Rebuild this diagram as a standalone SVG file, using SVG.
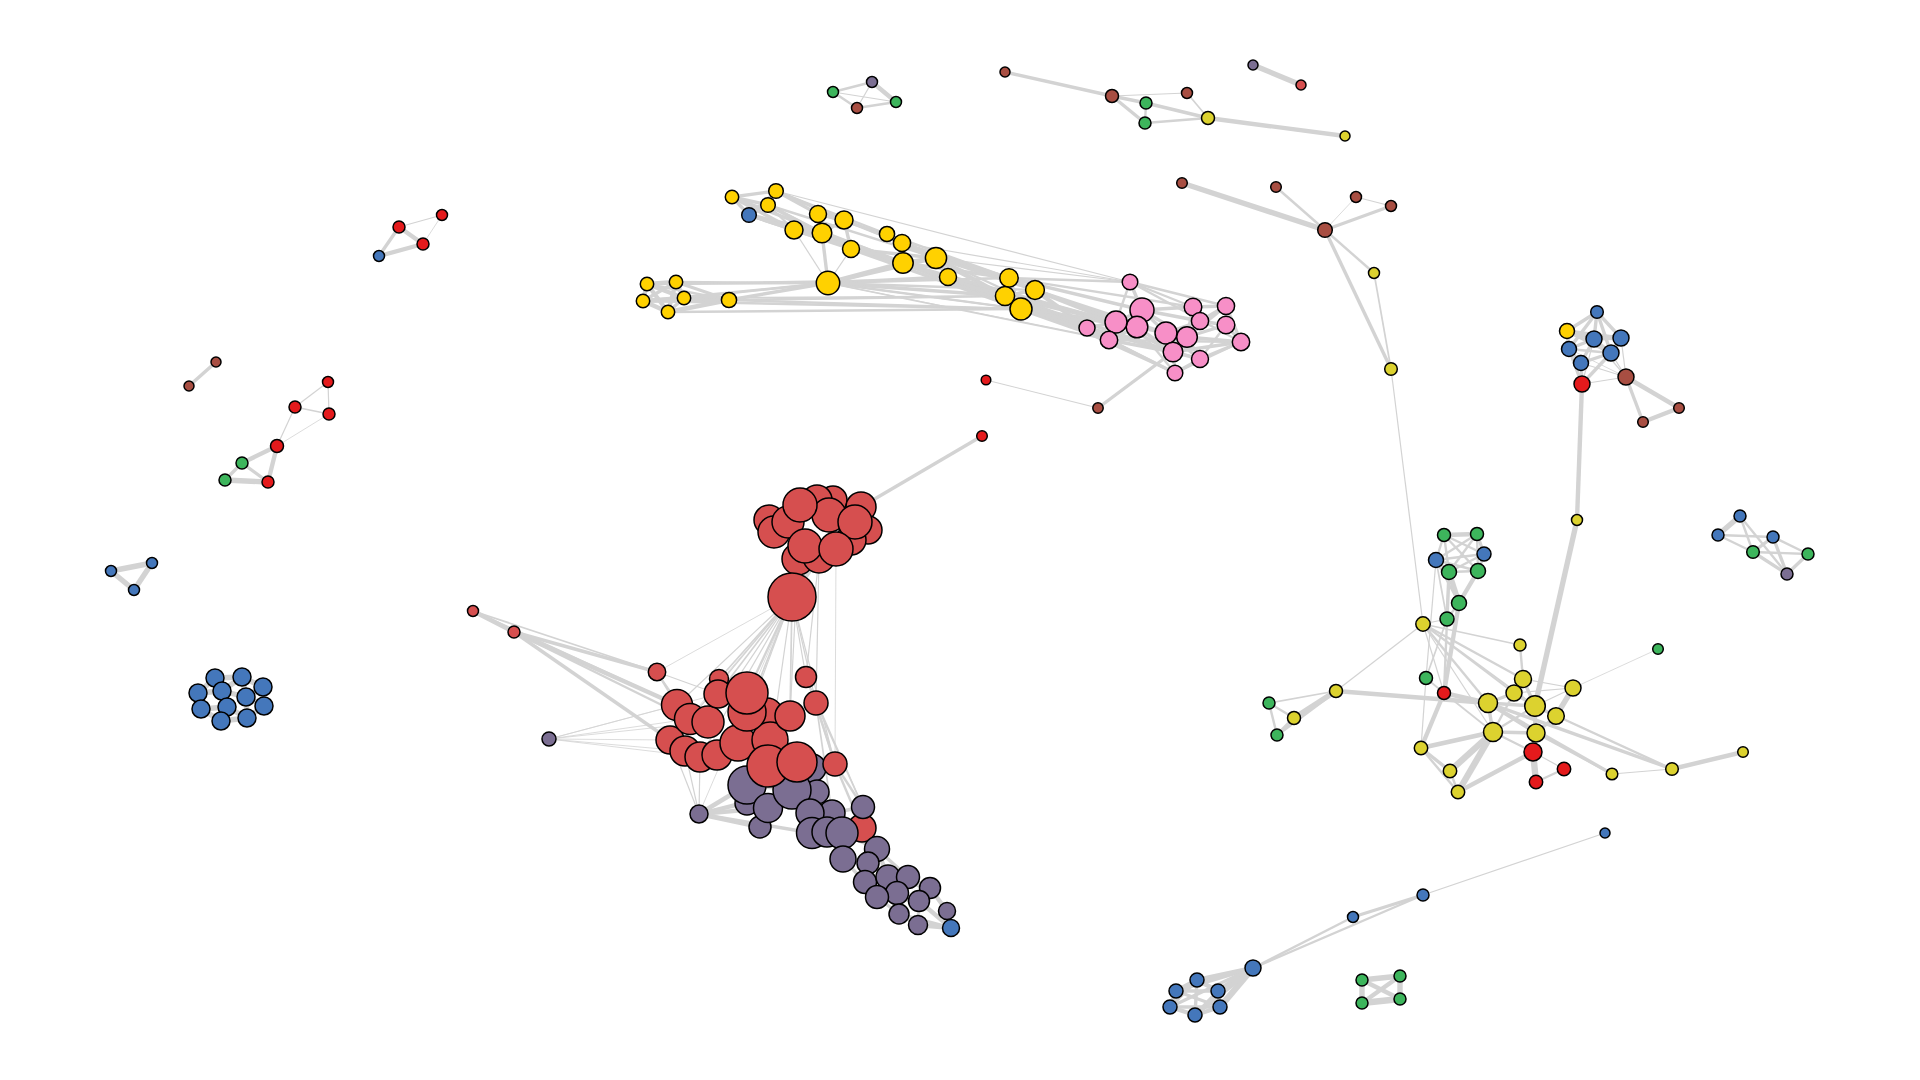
<svg xmlns="http://www.w3.org/2000/svg" width="1920" height="1080" viewBox="0 0 1920 1080">
<style>
line{stroke:#d3d3d3;stroke-linecap:butt}
.w05{stroke-width:0.8}.w1{stroke-width:1.2}.w15{stroke-width:1.7}.w2{stroke-width:2.4}.w3{stroke-width:3.4}.w4{stroke-width:4.4}.w5{stroke-width:5.4}.w6{stroke-width:6.4}
circle{stroke:#000;stroke-width:1.5}
.y{fill:#ffd100}.p{fill:#f78fc7}.r{fill:#d64f4f}.u{fill:#7b6e92}.b{fill:#4477bb}.g{fill:#3db55c}.rb{fill:#e41a1c}.n{fill:#a84e42}.l{fill:#dcd22f}
</style>
<rect width="1920" height="1080" fill="#fff"/>
<g id="edges">
<line x1="732" y1="197" x2="776" y2="191" class="w3"/>
<line x1="732" y1="197" x2="768" y2="205" class="w3"/>
<line x1="732" y1="197" x2="749" y2="215" class="w3"/>
<line x1="776" y1="191" x2="768" y2="205" class="w3"/>
<line x1="768" y1="205" x2="749" y2="215" class="w3"/>
<line x1="776" y1="191" x2="749" y2="215" class="w2"/>
<line x1="776" y1="191" x2="818" y2="214" class="w3"/>
<line x1="776" y1="191" x2="844" y2="220" class="w3"/>
<line x1="768" y1="205" x2="822" y2="233" class="w3"/>
<line x1="749" y1="215" x2="822" y2="233" class="w4"/>
<line x1="749" y1="215" x2="794" y2="230" class="w3"/>
<line x1="732" y1="197" x2="794" y2="230" class="w3"/>
<line x1="768" y1="205" x2="794" y2="230" class="w2"/>
<line x1="776" y1="191" x2="887" y2="234" class="w2"/>
<line x1="768" y1="205" x2="851" y2="249" class="w3"/>
<line x1="749" y1="215" x2="851" y2="249" class="w3"/>
<line x1="818" y1="214" x2="844" y2="220" class="w3"/>
<line x1="818" y1="214" x2="822" y2="233" class="w3"/>
<line x1="844" y1="220" x2="822" y2="233" class="w3"/>
<line x1="794" y1="230" x2="822" y2="233" class="w3"/>
<line x1="822" y1="233" x2="851" y2="249" class="w3"/>
<line x1="844" y1="220" x2="851" y2="249" class="w3"/>
<line x1="844" y1="220" x2="902" y2="243" class="w3"/>
<line x1="818" y1="214" x2="887" y2="234" class="w2"/>
<line x1="851" y1="249" x2="903" y2="263" class="w4"/>
<line x1="822" y1="233" x2="903" y2="263" class="w4"/>
<line x1="887" y1="234" x2="902" y2="243" class="w3"/>
<line x1="902" y1="243" x2="903" y2="263" class="w4"/>
<line x1="903" y1="263" x2="936" y2="258" class="w4"/>
<line x1="936" y1="258" x2="948" y2="277" class="w3"/>
<line x1="902" y1="243" x2="936" y2="258" class="w3"/>
<line x1="887" y1="234" x2="936" y2="258" class="w3"/>
<line x1="903" y1="263" x2="948" y2="277" class="w3"/>
<line x1="851" y1="249" x2="936" y2="258" class="w3"/>
<line x1="794" y1="230" x2="903" y2="263" class="w3"/>
<line x1="776" y1="191" x2="936" y2="258" class="w2"/>
<line x1="732" y1="197" x2="903" y2="263" class="w3"/>
<line x1="749" y1="215" x2="948" y2="277" class="w3"/>
<line x1="768" y1="205" x2="936" y2="258" class="w2"/>
<line x1="936" y1="258" x2="1009" y2="278" class="w4"/>
<line x1="948" y1="277" x2="1005" y2="296" class="w4"/>
<line x1="903" y1="263" x2="1009" y2="278" class="w3"/>
<line x1="903" y1="263" x2="1021" y2="309" class="w4"/>
<line x1="936" y1="258" x2="1035" y2="290" class="w3"/>
<line x1="902" y1="243" x2="1009" y2="278" class="w3"/>
<line x1="948" y1="277" x2="1021" y2="309" class="w4"/>
<line x1="887" y1="234" x2="1009" y2="278" class="w2"/>
<line x1="851" y1="249" x2="1021" y2="309" class="w3"/>
<line x1="936" y1="258" x2="1005" y2="296" class="w3"/>
<line x1="902" y1="243" x2="1005" y2="296" class="w3"/>
<line x1="1009" y1="278" x2="1035" y2="290" class="w3"/>
<line x1="1009" y1="278" x2="1005" y2="296" class="w3"/>
<line x1="1035" y1="290" x2="1021" y2="309" class="w3"/>
<line x1="1005" y1="296" x2="1021" y2="309" class="w3"/>
<line x1="1009" y1="278" x2="1021" y2="309" class="w3"/>
<line x1="1035" y1="290" x2="1005" y2="296" class="w3"/>
<line x1="828" y1="283" x2="794" y2="230" class="w1"/>
<line x1="828" y1="283" x2="822" y2="233" class="w3"/>
<line x1="828" y1="283" x2="851" y2="249" class="w1"/>
<line x1="828" y1="283" x2="903" y2="263" class="w4"/>
<line x1="828" y1="283" x2="936" y2="258" class="w3"/>
<line x1="828" y1="283" x2="948" y2="277" class="w3"/>
<line x1="828" y1="283" x2="1009" y2="278" class="w2"/>
<line x1="828" y1="283" x2="1005" y2="296" class="w3"/>
<line x1="828" y1="283" x2="1021" y2="309" class="w2"/>
<line x1="828" y1="283" x2="729" y2="300" class="w3"/>
<line x1="828" y1="283" x2="647" y2="284" class="w2"/>
<line x1="828" y1="283" x2="676" y2="282" class="w2"/>
<line x1="828" y1="283" x2="643" y2="301" class="w2"/>
<line x1="828" y1="283" x2="684" y2="298" class="w2"/>
<line x1="828" y1="283" x2="1035" y2="290" class="w2"/>
<line x1="647" y1="284" x2="676" y2="282" class="w4"/>
<line x1="647" y1="284" x2="643" y2="301" class="w4"/>
<line x1="647" y1="284" x2="684" y2="298" class="w4"/>
<line x1="647" y1="284" x2="668" y2="312" class="w4"/>
<line x1="676" y1="282" x2="684" y2="298" class="w4"/>
<line x1="676" y1="282" x2="668" y2="312" class="w4"/>
<line x1="643" y1="301" x2="684" y2="298" class="w4"/>
<line x1="643" y1="301" x2="668" y2="312" class="w4"/>
<line x1="684" y1="298" x2="668" y2="312" class="w3"/>
<line x1="676" y1="282" x2="643" y2="301" class="w3"/>
<line x1="684" y1="298" x2="729" y2="300" class="w4"/>
<line x1="668" y1="312" x2="729" y2="300" class="w4"/>
<line x1="676" y1="282" x2="729" y2="300" class="w3"/>
<line x1="647" y1="284" x2="729" y2="300" class="w2"/>
<line x1="643" y1="301" x2="729" y2="300" class="w3"/>
<line x1="643" y1="301" x2="1021" y2="309" class="w2"/>
<line x1="668" y1="312" x2="1021" y2="309" class="w2"/>
<line x1="729" y1="300" x2="1005" y2="296" class="w2"/>
<line x1="729" y1="300" x2="1021" y2="309" class="w2"/>
<line x1="684" y1="298" x2="1005" y2="296" class="w15"/>
<line x1="647" y1="284" x2="1009" y2="278" class="w15"/>
<line x1="1009" y1="278" x2="1130" y2="282" class="w2"/>
<line x1="1035" y1="290" x2="1087" y2="328" class="w4"/>
<line x1="1035" y1="290" x2="1116" y2="322" class="w4"/>
<line x1="1005" y1="296" x2="1087" y2="328" class="w4"/>
<line x1="1021" y1="309" x2="1109" y2="340" class="w4"/>
<line x1="1021" y1="309" x2="1116" y2="322" class="w3"/>
<line x1="1005" y1="296" x2="1116" y2="322" class="w4"/>
<line x1="1009" y1="278" x2="1142" y2="310" class="w3"/>
<line x1="1035" y1="290" x2="1137" y2="327" class="w3"/>
<line x1="1021" y1="309" x2="1137" y2="327" class="w3"/>
<line x1="1035" y1="290" x2="1166" y2="333" class="w3"/>
<line x1="1005" y1="296" x2="1173" y2="352" class="w3"/>
<line x1="1021" y1="309" x2="1173" y2="352" class="w3"/>
<line x1="1009" y1="278" x2="1193" y2="307" class="w2"/>
<line x1="1005" y1="296" x2="1175" y2="373" class="w2"/>
<line x1="1021" y1="309" x2="1200" y2="359" class="w2"/>
<line x1="936" y1="258" x2="1130" y2="282" class="w1"/>
<line x1="776" y1="191" x2="1130" y2="282" class="w1"/>
<line x1="948" y1="277" x2="1116" y2="322" class="w2"/>
<line x1="903" y1="263" x2="1087" y2="328" class="w2"/>
<line x1="936" y1="258" x2="1087" y2="328" class="w2"/>
<line x1="948" y1="277" x2="1109" y2="340" class="w2"/>
<line x1="903" y1="263" x2="1116" y2="322" class="w2"/>
<line x1="902" y1="243" x2="1130" y2="282" class="w1"/>
<line x1="828" y1="283" x2="1116" y2="322" class="w15"/>
<line x1="828" y1="283" x2="1109" y2="340" class="w15"/>
<line x1="828" y1="283" x2="1173" y2="352" class="w1"/>
<line x1="1130" y1="282" x2="1142" y2="310" class="w3"/>
<line x1="1130" y1="282" x2="1193" y2="307" class="w2"/>
<line x1="1130" y1="282" x2="1226" y2="306" class="w2"/>
<line x1="1130" y1="282" x2="1116" y2="322" class="w2"/>
<line x1="1130" y1="282" x2="1241" y2="342" class="w2"/>
<line x1="1142" y1="310" x2="1137" y2="327" class="w3"/>
<line x1="1142" y1="310" x2="1116" y2="322" class="w3"/>
<line x1="1142" y1="310" x2="1166" y2="333" class="w3"/>
<line x1="1142" y1="310" x2="1193" y2="307" class="w3"/>
<line x1="1142" y1="310" x2="1200" y2="321" class="w3"/>
<line x1="1142" y1="310" x2="1187" y2="337" class="w3"/>
<line x1="1137" y1="327" x2="1116" y2="322" class="w3"/>
<line x1="1137" y1="327" x2="1166" y2="333" class="w3"/>
<line x1="1137" y1="327" x2="1109" y2="340" class="w3"/>
<line x1="1137" y1="327" x2="1173" y2="352" class="w3"/>
<line x1="1137" y1="327" x2="1175" y2="373" class="w2"/>
<line x1="1116" y1="322" x2="1087" y2="328" class="w3"/>
<line x1="1116" y1="322" x2="1109" y2="340" class="w3"/>
<line x1="1116" y1="322" x2="1173" y2="352" class="w3"/>
<line x1="1087" y1="328" x2="1109" y2="340" class="w3"/>
<line x1="1087" y1="328" x2="1173" y2="352" class="w2"/>
<line x1="1087" y1="328" x2="1175" y2="373" class="w2"/>
<line x1="1109" y1="340" x2="1173" y2="352" class="w3"/>
<line x1="1109" y1="340" x2="1175" y2="373" class="w3"/>
<line x1="1109" y1="340" x2="1241" y2="342" class="w2"/>
<line x1="1166" y1="333" x2="1187" y2="337" class="w3"/>
<line x1="1166" y1="333" x2="1173" y2="352" class="w3"/>
<line x1="1166" y1="333" x2="1200" y2="321" class="w3"/>
<line x1="1166" y1="333" x2="1200" y2="359" class="w3"/>
<line x1="1187" y1="337" x2="1200" y2="321" class="w3"/>
<line x1="1187" y1="337" x2="1193" y2="307" class="w3"/>
<line x1="1187" y1="337" x2="1226" y2="306" class="w3"/>
<line x1="1187" y1="337" x2="1226" y2="325" class="w3"/>
<line x1="1187" y1="337" x2="1241" y2="342" class="w3"/>
<line x1="1187" y1="337" x2="1200" y2="359" class="w3"/>
<line x1="1193" y1="307" x2="1200" y2="321" class="w3"/>
<line x1="1193" y1="307" x2="1226" y2="306" class="w3"/>
<line x1="1200" y1="321" x2="1226" y2="306" class="w3"/>
<line x1="1200" y1="321" x2="1226" y2="325" class="w3"/>
<line x1="1226" y1="306" x2="1226" y2="325" class="w3"/>
<line x1="1226" y1="325" x2="1241" y2="342" class="w3"/>
<line x1="1226" y1="306" x2="1241" y2="342" class="w3"/>
<line x1="1226" y1="325" x2="1200" y2="359" class="w2"/>
<line x1="1241" y1="342" x2="1200" y2="359" class="w3"/>
<line x1="1241" y1="342" x2="1173" y2="352" class="w3"/>
<line x1="1241" y1="342" x2="1175" y2="373" class="w2"/>
<line x1="1173" y1="352" x2="1200" y2="359" class="w3"/>
<line x1="1173" y1="352" x2="1175" y2="373" class="w3"/>
<line x1="1200" y1="359" x2="1175" y2="373" class="w3"/>
<line x1="986" y1="380" x2="1098" y2="408" class="w1"/>
<line x1="1098" y1="408" x2="1173" y2="352" class="w3"/>
<line x1="833" y1="92" x2="872" y2="82" class="w2"/>
<line x1="833" y1="92" x2="857" y2="108" class="w2"/>
<line x1="833" y1="92" x2="896" y2="102" class="w1"/>
<line x1="872" y1="82" x2="896" y2="102" class="w4"/>
<line x1="857" y1="108" x2="896" y2="102" class="w2"/>
<line x1="872" y1="82" x2="857" y2="108" class="w1"/>
<line x1="1005" y1="72" x2="1112" y2="96" class="w3"/>
<line x1="1112" y1="96" x2="1187" y2="93" class="w1"/>
<line x1="1112" y1="96" x2="1146" y2="103" class="w3"/>
<line x1="1112" y1="96" x2="1145" y2="123" class="w3"/>
<line x1="1146" y1="103" x2="1145" y2="123" class="w2"/>
<line x1="1146" y1="103" x2="1208" y2="118" class="w3"/>
<line x1="1145" y1="123" x2="1208" y2="118" class="w2"/>
<line x1="1187" y1="93" x2="1208" y2="118" class="w15"/>
<line x1="1208" y1="118" x2="1345" y2="136" class="w4"/>
<line x1="1253" y1="65" x2="1301" y2="85" class="w5"/>
<line x1="1182" y1="183" x2="1325" y2="230" class="w5"/>
<line x1="1276" y1="187" x2="1325" y2="230" class="w2"/>
<line x1="1356" y1="197" x2="1325" y2="230" class="w05"/>
<line x1="1391" y1="206" x2="1325" y2="230" class="w3"/>
<line x1="1356" y1="197" x2="1391" y2="206" class="w1"/>
<line x1="1325" y1="230" x2="1374" y2="273" class="w2"/>
<line x1="1325" y1="230" x2="1391" y2="369" class="w3"/>
<line x1="1374" y1="273" x2="1391" y2="369" class="w15"/>
<line x1="1391" y1="369" x2="1423" y2="624" class="w1"/>
<line x1="399" y1="227" x2="423" y2="244" class="w4"/>
<line x1="379" y1="256" x2="399" y2="227" class="w3"/>
<line x1="379" y1="256" x2="423" y2="244" class="w4"/>
<line x1="399" y1="227" x2="442" y2="215" class="w1"/>
<line x1="442" y1="215" x2="423" y2="244" class="w05"/>
<line x1="216" y1="362" x2="189" y2="386" class="w3"/>
<line x1="328" y1="382" x2="295" y2="407" class="w1"/>
<line x1="328" y1="382" x2="329" y2="414" class="w1"/>
<line x1="295" y1="407" x2="329" y2="414" class="w15"/>
<line x1="295" y1="407" x2="277" y2="446" class="w1"/>
<line x1="329" y1="414" x2="277" y2="446" class="w05"/>
<line x1="277" y1="446" x2="242" y2="463" class="w4"/>
<line x1="277" y1="446" x2="268" y2="482" class="w4"/>
<line x1="242" y1="463" x2="225" y2="480" class="w3"/>
<line x1="242" y1="463" x2="268" y2="482" class="w3"/>
<line x1="225" y1="480" x2="268" y2="482" class="w5"/>
<line x1="111" y1="571" x2="152" y2="563" class="w5"/>
<line x1="111" y1="571" x2="134" y2="590" class="w5"/>
<line x1="152" y1="563" x2="134" y2="590" class="w5"/>
<line x1="215" y1="678" x2="242" y2="677" class="w5"/>
<line x1="215" y1="678" x2="198" y2="693" class="w5"/>
<line x1="215" y1="678" x2="222" y2="691" class="w5"/>
<line x1="242" y1="677" x2="263" y2="687" class="w5"/>
<line x1="242" y1="677" x2="246" y2="697" class="w5"/>
<line x1="242" y1="677" x2="222" y2="691" class="w5"/>
<line x1="263" y1="687" x2="246" y2="697" class="w5"/>
<line x1="263" y1="687" x2="264" y2="706" class="w5"/>
<line x1="198" y1="693" x2="222" y2="691" class="w5"/>
<line x1="198" y1="693" x2="201" y2="709" class="w5"/>
<line x1="222" y1="691" x2="227" y2="707" class="w5"/>
<line x1="222" y1="691" x2="246" y2="697" class="w5"/>
<line x1="246" y1="697" x2="264" y2="706" class="w5"/>
<line x1="246" y1="697" x2="247" y2="718" class="w5"/>
<line x1="201" y1="709" x2="227" y2="707" class="w5"/>
<line x1="201" y1="709" x2="221" y2="721" class="w5"/>
<line x1="227" y1="707" x2="221" y2="721" class="w5"/>
<line x1="227" y1="707" x2="247" y2="718" class="w5"/>
<line x1="264" y1="706" x2="247" y2="718" class="w5"/>
<line x1="221" y1="721" x2="247" y2="718" class="w5"/>
<line x1="861" y1="507" x2="982" y2="436" class="w3"/>
<line x1="798" y1="559" x2="792" y2="597" class="w4"/>
<line x1="819" y1="557" x2="792" y2="597" class="w4"/>
<line x1="792" y1="597" x2="657" y2="672" class="w05"/>
<line x1="792" y1="597" x2="677" y2="705" class="w1"/>
<line x1="792" y1="597" x2="690" y2="719" class="w1"/>
<line x1="792" y1="597" x2="718" y2="694" class="w15"/>
<line x1="792" y1="597" x2="747" y2="693" class="w2"/>
<line x1="792" y1="597" x2="806" y2="677" class="w1"/>
<line x1="792" y1="597" x2="816" y2="703" class="w1"/>
<line x1="792" y1="597" x2="790" y2="716" class="w15"/>
<line x1="792" y1="597" x2="835" y2="764" class="w1"/>
<line x1="792" y1="597" x2="700" y2="757" class="w1"/>
<line x1="792" y1="597" x2="670" y2="740" class="w05"/>
<line x1="792" y1="597" x2="699" y2="814" class="w05"/>
<line x1="792" y1="597" x2="747" y2="712" class="w15"/>
<line x1="792" y1="597" x2="719" y2="679" class="w15"/>
<line x1="792" y1="597" x2="708" y2="722" class="w1"/>
<line x1="792" y1="597" x2="738" y2="743" class="w1"/>
<line x1="792" y1="597" x2="768" y2="766" class="w1"/>
<line x1="819" y1="557" x2="806" y2="677" class="w1"/>
<line x1="819" y1="557" x2="816" y2="703" class="w1"/>
<line x1="836" y1="549" x2="835" y2="764" class="w05"/>
<line x1="798" y1="559" x2="790" y2="716" class="w1"/>
<line x1="473" y1="611" x2="514" y2="632" class="w4"/>
<line x1="514" y1="632" x2="677" y2="705" class="w4"/>
<line x1="514" y1="632" x2="670" y2="740" class="w3"/>
<line x1="514" y1="632" x2="690" y2="719" class="w2"/>
<line x1="473" y1="611" x2="677" y2="705" class="w2"/>
<line x1="473" y1="611" x2="657" y2="672" class="w15"/>
<line x1="514" y1="632" x2="657" y2="672" class="w3"/>
<line x1="657" y1="672" x2="677" y2="705" class="w2"/>
<line x1="657" y1="672" x2="718" y2="694" class="w1"/>
<line x1="657" y1="672" x2="690" y2="719" class="w1"/>
<line x1="549" y1="739" x2="670" y2="740" class="w05"/>
<line x1="549" y1="739" x2="685" y2="751" class="w05"/>
<line x1="549" y1="739" x2="677" y2="705" class="w05"/>
<line x1="549" y1="739" x2="690" y2="719" class="w05"/>
<line x1="549" y1="739" x2="700" y2="757" class="w05"/>
<line x1="549" y1="739" x2="708" y2="722" class="w05"/>
<line x1="549" y1="739" x2="718" y2="694" class="w05"/>
<line x1="699" y1="814" x2="670" y2="740" class="w1"/>
<line x1="699" y1="814" x2="685" y2="751" class="w1"/>
<line x1="699" y1="814" x2="700" y2="757" class="w1"/>
<line x1="699" y1="814" x2="747" y2="785" class="w4"/>
<line x1="699" y1="814" x2="760" y2="827" class="w4"/>
<line x1="699" y1="814" x2="747" y2="803" class="w3"/>
<line x1="699" y1="814" x2="812" y2="833" class="w3"/>
<line x1="699" y1="814" x2="768" y2="808" class="w4"/>
<line x1="699" y1="814" x2="792" y2="790" class="w3"/>
<line x1="816" y1="703" x2="863" y2="807" class="w15"/>
<line x1="816" y1="703" x2="835" y2="764" class="w2"/>
<line x1="835" y1="764" x2="863" y2="807" class="w2"/>
<line x1="806" y1="677" x2="835" y2="764" class="w1"/>
<line x1="816" y1="703" x2="832" y2="813" class="w15"/>
<line x1="835" y1="764" x2="862" y2="828" class="w2"/>
<line x1="806" y1="677" x2="863" y2="807" class="w1"/>
<line x1="747" y1="785" x2="792" y2="790" class="w3"/>
<line x1="747" y1="785" x2="768" y2="808" class="w3"/>
<line x1="792" y1="790" x2="768" y2="808" class="w3"/>
<line x1="792" y1="790" x2="810" y2="813" class="w3"/>
<line x1="792" y1="790" x2="812" y2="833" class="w3"/>
<line x1="810" y1="813" x2="827" y2="832" class="w3"/>
<line x1="812" y1="833" x2="842" y2="833" class="w3"/>
<line x1="827" y1="832" x2="842" y2="833" class="w3"/>
<line x1="832" y1="813" x2="863" y2="807" class="w3"/>
<line x1="842" y1="833" x2="863" y2="807" class="w3"/>
<line x1="842" y1="833" x2="877" y2="849" class="w3"/>
<line x1="842" y1="833" x2="843" y2="859" class="w3"/>
<line x1="863" y1="807" x2="877" y2="849" class="w4"/>
<line x1="877" y1="849" x2="868" y2="863" class="w3"/>
<line x1="877" y1="849" x2="888" y2="877" class="w4"/>
<line x1="843" y1="859" x2="865" y2="882" class="w3"/>
<line x1="868" y1="863" x2="888" y2="877" class="w3"/>
<line x1="865" y1="882" x2="877" y2="897" class="w3"/>
<line x1="888" y1="877" x2="908" y2="877" class="w3"/>
<line x1="908" y1="877" x2="930" y2="888" class="w3"/>
<line x1="897" y1="893" x2="919" y2="901" class="w3"/>
<line x1="888" y1="877" x2="897" y2="893" class="w3"/>
<line x1="877" y1="897" x2="899" y2="914" class="w3"/>
<line x1="930" y1="888" x2="947" y2="911" class="w4"/>
<line x1="919" y1="901" x2="918" y2="925" class="w3"/>
<line x1="899" y1="914" x2="918" y2="925" class="w3"/>
<line x1="918" y1="925" x2="951" y2="928" class="w4"/>
<line x1="947" y1="911" x2="951" y2="928" class="w4"/>
<line x1="930" y1="888" x2="919" y2="901" class="w3"/>
<line x1="897" y1="893" x2="899" y2="914" class="w3"/>
<line x1="877" y1="849" x2="908" y2="877" class="w3"/>
<line x1="888" y1="877" x2="930" y2="888" class="w4"/>
<line x1="919" y1="901" x2="951" y2="928" class="w4"/>
<line x1="899" y1="914" x2="951" y2="928" class="w3"/>
<line x1="877" y1="897" x2="919" y2="901" class="w3"/>
<line x1="1444" y1="535" x2="1477" y2="534" class="w4"/>
<line x1="1444" y1="535" x2="1436" y2="560" class="w2"/>
<line x1="1444" y1="535" x2="1484" y2="554" class="w2"/>
<line x1="1444" y1="535" x2="1449" y2="572" class="w2"/>
<line x1="1444" y1="535" x2="1478" y2="571" class="w2"/>
<line x1="1477" y1="534" x2="1436" y2="560" class="w2"/>
<line x1="1477" y1="534" x2="1484" y2="554" class="w3"/>
<line x1="1477" y1="534" x2="1449" y2="572" class="w2"/>
<line x1="1477" y1="534" x2="1478" y2="571" class="w2"/>
<line x1="1436" y1="560" x2="1484" y2="554" class="w2"/>
<line x1="1436" y1="560" x2="1449" y2="572" class="w3"/>
<line x1="1436" y1="560" x2="1478" y2="571" class="w2"/>
<line x1="1484" y1="554" x2="1449" y2="572" class="w2"/>
<line x1="1484" y1="554" x2="1478" y2="571" class="w3"/>
<line x1="1449" y1="572" x2="1478" y2="571" class="w2"/>
<line x1="1449" y1="572" x2="1459" y2="603" class="w5"/>
<line x1="1478" y1="571" x2="1459" y2="603" class="w4"/>
<line x1="1436" y1="560" x2="1459" y2="603" class="w2"/>
<line x1="1449" y1="572" x2="1447" y2="619" class="w3"/>
<line x1="1436" y1="560" x2="1447" y2="619" class="w15"/>
<line x1="1459" y1="603" x2="1447" y2="619" class="w2"/>
<line x1="1459" y1="603" x2="1444" y2="693" class="w4"/>
<line x1="1449" y1="572" x2="1444" y2="693" class="w2"/>
<line x1="1436" y1="560" x2="1426" y2="678" class="w1"/>
<line x1="1447" y1="619" x2="1426" y2="678" class="w15"/>
<line x1="1423" y1="624" x2="1336" y2="691" class="w1"/>
<line x1="1423" y1="624" x2="1447" y2="619" class="w1"/>
<line x1="1423" y1="624" x2="1520" y2="645" class="w15"/>
<line x1="1423" y1="624" x2="1523" y2="679" class="w2"/>
<line x1="1423" y1="624" x2="1488" y2="703" class="w2"/>
<line x1="1423" y1="624" x2="1535" y2="706" class="w15"/>
<line x1="1423" y1="624" x2="1514" y2="693" class="w15"/>
<line x1="1423" y1="624" x2="1444" y2="693" class="w1"/>
<line x1="1423" y1="624" x2="1493" y2="732" class="w1"/>
<line x1="1426" y1="678" x2="1421" y2="748" class="w1"/>
<line x1="1426" y1="678" x2="1444" y2="693" class="w15"/>
<line x1="1444" y1="693" x2="1421" y2="748" class="w4"/>
<line x1="1444" y1="693" x2="1488" y2="703" class="w4"/>
<line x1="1444" y1="693" x2="1493" y2="732" class="w15"/>
<line x1="1336" y1="691" x2="1488" y2="703" class="w4"/>
<line x1="1336" y1="691" x2="1269" y2="703" class="w15"/>
<line x1="1336" y1="691" x2="1294" y2="718" class="w5"/>
<line x1="1336" y1="691" x2="1277" y2="735" class="w3"/>
<line x1="1269" y1="703" x2="1294" y2="718" class="w2"/>
<line x1="1269" y1="703" x2="1277" y2="735" class="w2"/>
<line x1="1294" y1="718" x2="1277" y2="735" class="w3"/>
<line x1="1520" y1="645" x2="1523" y2="679" class="w2"/>
<line x1="1523" y1="679" x2="1514" y2="693" class="w3"/>
<line x1="1523" y1="679" x2="1535" y2="706" class="w3"/>
<line x1="1523" y1="679" x2="1573" y2="688" class="w1"/>
<line x1="1514" y1="693" x2="1488" y2="703" class="w3"/>
<line x1="1514" y1="693" x2="1535" y2="706" class="w3"/>
<line x1="1514" y1="693" x2="1573" y2="688" class="w1"/>
<line x1="1488" y1="703" x2="1535" y2="706" class="w3"/>
<line x1="1535" y1="706" x2="1573" y2="688" class="w1"/>
<line x1="1535" y1="706" x2="1556" y2="716" class="w3"/>
<line x1="1535" y1="706" x2="1536" y2="733" class="w3"/>
<line x1="1488" y1="703" x2="1493" y2="732" class="w3"/>
<line x1="1493" y1="732" x2="1536" y2="733" class="w3"/>
<line x1="1556" y1="716" x2="1536" y2="733" class="w3"/>
<line x1="1573" y1="688" x2="1556" y2="716" class="w5"/>
<line x1="1488" y1="703" x2="1536" y2="733" class="w3"/>
<line x1="1535" y1="706" x2="1493" y2="732" class="w2"/>
<line x1="1514" y1="693" x2="1493" y2="732" class="w2"/>
<line x1="1536" y1="733" x2="1533" y2="752" class="w3"/>
<line x1="1493" y1="732" x2="1533" y2="752" class="w2"/>
<line x1="1535" y1="706" x2="1533" y2="752" class="w2"/>
<line x1="1658" y1="649" x2="1573" y2="688" class="w05"/>
<line x1="1421" y1="748" x2="1493" y2="732" class="w4"/>
<line x1="1421" y1="748" x2="1450" y2="771" class="w3"/>
<line x1="1421" y1="748" x2="1458" y2="792" class="w2"/>
<line x1="1450" y1="771" x2="1493" y2="732" class="w6"/>
<line x1="1458" y1="792" x2="1493" y2="732" class="w6"/>
<line x1="1458" y1="792" x2="1533" y2="752" class="w4"/>
<line x1="1450" y1="771" x2="1458" y2="792" class="w2"/>
<line x1="1533" y1="752" x2="1536" y2="782" class="w6"/>
<line x1="1536" y1="782" x2="1564" y2="769" class="w2"/>
<line x1="1533" y1="752" x2="1564" y2="769" class="w1"/>
<line x1="1488" y1="703" x2="1612" y2="774" class="w3"/>
<line x1="1488" y1="703" x2="1672" y2="769" class="w3"/>
<line x1="1535" y1="706" x2="1672" y2="769" class="w2"/>
<line x1="1536" y1="733" x2="1612" y2="774" class="w2"/>
<line x1="1612" y1="774" x2="1672" y2="769" class="w1"/>
<line x1="1672" y1="769" x2="1743" y2="752" class="w4"/>
<line x1="1535" y1="706" x2="1577" y2="520" class="w5"/>
<line x1="1577" y1="520" x2="1582" y2="384" class="w4"/>
<line x1="1597" y1="312" x2="1567" y2="331" class="w3"/>
<line x1="1597" y1="312" x2="1594" y2="339" class="w3"/>
<line x1="1597" y1="312" x2="1621" y2="338" class="w3"/>
<line x1="1597" y1="312" x2="1569" y2="349" class="w3"/>
<line x1="1597" y1="312" x2="1611" y2="353" class="w3"/>
<line x1="1567" y1="331" x2="1594" y2="339" class="w3"/>
<line x1="1567" y1="331" x2="1569" y2="349" class="w3"/>
<line x1="1567" y1="331" x2="1611" y2="353" class="w3"/>
<line x1="1567" y1="331" x2="1621" y2="338" class="w3"/>
<line x1="1594" y1="339" x2="1621" y2="338" class="w3"/>
<line x1="1594" y1="339" x2="1569" y2="349" class="w3"/>
<line x1="1594" y1="339" x2="1611" y2="353" class="w3"/>
<line x1="1594" y1="339" x2="1581" y2="363" class="w3"/>
<line x1="1621" y1="338" x2="1611" y2="353" class="w3"/>
<line x1="1569" y1="349" x2="1581" y2="363" class="w3"/>
<line x1="1611" y1="353" x2="1581" y2="363" class="w3"/>
<line x1="1569" y1="349" x2="1611" y2="353" class="w2"/>
<line x1="1569" y1="349" x2="1582" y2="384" class="w3"/>
<line x1="1581" y1="363" x2="1582" y2="384" class="w3"/>
<line x1="1611" y1="353" x2="1582" y2="384" class="w3"/>
<line x1="1594" y1="339" x2="1582" y2="384" class="w1"/>
<line x1="1621" y1="338" x2="1626" y2="377" class="w1"/>
<line x1="1611" y1="353" x2="1626" y2="377" class="w1"/>
<line x1="1594" y1="339" x2="1626" y2="377" class="w1"/>
<line x1="1581" y1="363" x2="1626" y2="377" class="w1"/>
<line x1="1582" y1="384" x2="1626" y2="377" class="w1"/>
<line x1="1569" y1="349" x2="1626" y2="377" class="w05"/>
<line x1="1626" y1="377" x2="1679" y2="408" class="w4"/>
<line x1="1626" y1="377" x2="1643" y2="422" class="w3"/>
<line x1="1643" y1="422" x2="1679" y2="408" class="w4"/>
<line x1="1740" y1="516" x2="1718" y2="535" class="w5"/>
<line x1="1740" y1="516" x2="1753" y2="552" class="w2"/>
<line x1="1740" y1="516" x2="1787" y2="574" class="w2"/>
<line x1="1718" y1="535" x2="1773" y2="537" class="w2"/>
<line x1="1718" y1="535" x2="1753" y2="552" class="w2"/>
<line x1="1773" y1="537" x2="1753" y2="552" class="w3"/>
<line x1="1773" y1="537" x2="1787" y2="574" class="w3"/>
<line x1="1773" y1="537" x2="1808" y2="554" class="w2"/>
<line x1="1753" y1="552" x2="1808" y2="554" class="w2"/>
<line x1="1808" y1="554" x2="1787" y2="574" class="w3"/>
<line x1="1753" y1="552" x2="1787" y2="574" class="w3"/>
<line x1="1605" y1="833" x2="1423" y2="895" class="w1"/>
<line x1="1423" y1="895" x2="1353" y2="917" class="w3"/>
<line x1="1423" y1="895" x2="1253" y2="968" class="w2"/>
<line x1="1353" y1="917" x2="1253" y2="968" class="w2"/>
<line x1="1253" y1="968" x2="1197" y2="980" class="w4"/>
<line x1="1253" y1="968" x2="1218" y2="991" class="w5"/>
<line x1="1253" y1="968" x2="1220" y2="1007" class="w6"/>
<line x1="1253" y1="968" x2="1176" y2="991" class="w3"/>
<line x1="1253" y1="968" x2="1195" y2="1015" class="w4"/>
<line x1="1253" y1="968" x2="1170" y2="1007" class="w3"/>
<line x1="1197" y1="980" x2="1176" y2="991" class="w4"/>
<line x1="1197" y1="980" x2="1218" y2="991" class="w4"/>
<line x1="1176" y1="991" x2="1170" y2="1007" class="w4"/>
<line x1="1218" y1="991" x2="1220" y2="1007" class="w4"/>
<line x1="1170" y1="1007" x2="1195" y2="1015" class="w4"/>
<line x1="1195" y1="1015" x2="1220" y2="1007" class="w4"/>
<line x1="1176" y1="991" x2="1218" y2="991" class="w3"/>
<line x1="1197" y1="980" x2="1195" y2="1015" class="w3"/>
<line x1="1176" y1="991" x2="1220" y2="1007" class="w3"/>
<line x1="1170" y1="1007" x2="1220" y2="1007" class="w3"/>
<line x1="1197" y1="980" x2="1170" y2="1007" class="w3"/>
<line x1="1218" y1="991" x2="1195" y2="1015" class="w3"/>
<line x1="1362" y1="980" x2="1400" y2="976" class="w5"/>
<line x1="1362" y1="980" x2="1362" y2="1003" class="w5"/>
<line x1="1400" y1="976" x2="1400" y2="999" class="w5"/>
<line x1="1362" y1="1003" x2="1400" y2="999" class="w6"/>
<line x1="1362" y1="980" x2="1400" y2="999" class="w4"/>
<line x1="1400" y1="976" x2="1362" y2="1003" class="w4"/>
</g>
<g id="n-t1"><circle class="g" cx="833" cy="92" r="5.5"/></g>
<g id="n-t2"><circle class="u" cx="872" cy="82" r="5.5"/></g>
<g id="n-t3"><circle class="n" cx="857" cy="108" r="5.5"/></g>
<g id="n-t4"><circle class="g" cx="896" cy="102" r="5.5"/></g>
<g id="n-a1"><circle class="n" cx="1005" cy="72" r="5"/></g>
<g id="n-a2"><circle class="n" cx="1112" cy="96" r="6.5"/></g>
<g id="n-a3"><circle class="g" cx="1146" cy="103" r="6"/></g>
<g id="n-a4"><circle class="g" cx="1145" cy="123" r="6"/></g>
<g id="n-a5"><circle class="n" cx="1187" cy="93" r="5.5"/></g>
<g id="n-a6"><circle class="l" cx="1208" cy="118" r="6.5"/></g>
<g id="n-a7"><circle class="l" cx="1345" cy="136" r="5"/></g>
<g id="n-a8"><circle class="u" cx="1253" cy="65" r="5"/></g>
<g id="n-a9"><circle class="r" cx="1301" cy="85" r="5"/></g>
<g id="n-b1"><circle class="n" cx="1182" cy="183" r="5.3"/></g>
<g id="n-b2"><circle class="n" cx="1276" cy="187" r="5.3"/></g>
<g id="n-b3"><circle class="n" cx="1356" cy="197" r="5.5"/></g>
<g id="n-b4"><circle class="n" cx="1391" cy="206" r="5.5"/></g>
<g id="n-b5"><circle class="n" cx="1325" cy="230" r="7.3"/></g>
<g id="n-b6"><circle class="l" cx="1374" cy="273" r="5.5"/></g>
<g id="n-b7"><circle class="l" cx="1391" cy="369" r="6.3"/></g>
<g id="n-c1"><circle class="rb" cx="399" cy="227" r="6"/></g>
<g id="n-c2"><circle class="rb" cx="442" cy="215" r="5.5"/></g>
<g id="n-c3"><circle class="rb" cx="423" cy="244" r="6"/></g>
<g id="n-c4"><circle class="b" cx="379" cy="256" r="5.5"/></g>
<g id="n-c5"><circle class="n" cx="216" cy="362" r="5"/></g>
<g id="n-c6"><circle class="n" cx="189" cy="386" r="5"/></g>
<g id="n-c7"><circle class="rb" cx="328" cy="382" r="5.5"/></g>
<g id="n-c8"><circle class="rb" cx="295" cy="407" r="6"/></g>
<g id="n-c9"><circle class="rb" cx="329" cy="414" r="6"/></g>
<g id="n-c10"><circle class="rb" cx="277" cy="446" r="6.5"/></g>
<g id="n-c11"><circle class="g" cx="242" cy="463" r="6"/></g>
<g id="n-c12"><circle class="g" cx="225" cy="480" r="6"/></g>
<g id="n-c13"><circle class="rb" cx="268" cy="482" r="6"/></g>
<g id="n-d1"><circle class="b" cx="111" cy="571" r="5.5"/></g>
<g id="n-d2"><circle class="b" cx="152" cy="563" r="5.5"/></g>
<g id="n-d3"><circle class="b" cx="134" cy="590" r="5.5"/></g>
<g id="n-e1"><circle class="b" cx="215" cy="678" r="9"/></g>
<g id="n-e2"><circle class="b" cx="242" cy="677" r="9"/></g>
<g id="n-e3"><circle class="b" cx="263" cy="687" r="9"/></g>
<g id="n-e4"><circle class="b" cx="198" cy="693" r="9"/></g>
<g id="n-e5"><circle class="b" cx="222" cy="691" r="9"/></g>
<g id="n-e6"><circle class="b" cx="246" cy="697" r="9"/></g>
<g id="n-e7"><circle class="b" cx="201" cy="709" r="9"/></g>
<g id="n-e8"><circle class="b" cx="227" cy="707" r="9"/></g>
<g id="n-e9"><circle class="b" cx="264" cy="706" r="9"/></g>
<g id="n-e10"><circle class="b" cx="221" cy="721" r="9"/></g>
<g id="n-e11"><circle class="b" cx="247" cy="718" r="9"/></g>
<g id="n-y1"><circle class="y" cx="732" cy="197" r="6.7"/></g>
<g id="n-y2"><circle class="y" cx="776" cy="191" r="7.3"/></g>
<g id="n-y3"><circle class="y" cx="768" cy="205" r="7.3"/></g>
<g id="n-y4"><circle class="b" cx="749" cy="215" r="7.3"/></g>
<g id="n-y5"><circle class="y" cx="818" cy="214" r="8.5"/></g>
<g id="n-y6"><circle class="y" cx="844" cy="220" r="9"/></g>
<g id="n-y7"><circle class="y" cx="794" cy="230" r="9"/></g>
<g id="n-y8"><circle class="y" cx="822" cy="233" r="9.8"/></g>
<g id="n-y9"><circle class="y" cx="851" cy="249" r="8.5"/></g>
<g id="n-y10"><circle class="y" cx="887" cy="234" r="7.6"/></g>
<g id="n-y11"><circle class="y" cx="902" cy="243" r="8.6"/></g>
<g id="n-y12"><circle class="y" cx="903" cy="263" r="10.2"/></g>
<g id="n-y13"><circle class="y" cx="936" cy="258" r="10.6"/></g>
<g id="n-y14"><circle class="y" cx="948" cy="277" r="8.5"/></g>
<g id="n-y15"><circle class="y" cx="828" cy="283" r="11.7"/></g>
<g id="n-y16"><circle class="y" cx="647" cy="284" r="6.7"/></g>
<g id="n-y17"><circle class="y" cx="676" cy="282" r="6.7"/></g>
<g id="n-y18"><circle class="y" cx="643" cy="301" r="6.7"/></g>
<g id="n-y19"><circle class="y" cx="684" cy="298" r="6.7"/></g>
<g id="n-y20"><circle class="y" cx="668" cy="312" r="6.7"/></g>
<g id="n-y21"><circle class="y" cx="729" cy="300" r="7.6"/></g>
<g id="n-y22"><circle class="y" cx="1009" cy="278" r="9.2"/></g>
<g id="n-y23"><circle class="y" cx="1035" cy="290" r="9.4"/></g>
<g id="n-y24"><circle class="y" cx="1005" cy="296" r="9.6"/></g>
<g id="n-y25"><circle class="y" cx="1021" cy="309" r="11"/></g>
<g id="n-p1"><circle class="p" cx="1130" cy="282" r="7.8"/></g>
<g id="n-p2"><circle class="p" cx="1142" cy="310" r="12"/></g>
<g id="n-p3"><circle class="p" cx="1137" cy="327" r="10.8"/></g>
<g id="n-p4"><circle class="p" cx="1116" cy="322" r="11"/></g>
<g id="n-p5"><circle class="p" cx="1087" cy="328" r="8"/></g>
<g id="n-p6"><circle class="p" cx="1109" cy="340" r="8.7"/></g>
<g id="n-p7"><circle class="p" cx="1166" cy="333" r="11"/></g>
<g id="n-p8"><circle class="p" cx="1187" cy="337" r="10.3"/></g>
<g id="n-p9"><circle class="p" cx="1193" cy="307" r="8.8"/></g>
<g id="n-p10"><circle class="p" cx="1200" cy="321" r="8.6"/></g>
<g id="n-p11"><circle class="p" cx="1226" cy="306" r="8.6"/></g>
<g id="n-p12"><circle class="p" cx="1226" cy="325" r="8.8"/></g>
<g id="n-p13"><circle class="p" cx="1241" cy="342" r="8.7"/></g>
<g id="n-p14"><circle class="p" cx="1173" cy="352" r="9.8"/></g>
<g id="n-p15"><circle class="p" cx="1200" cy="359" r="8.5"/></g>
<g id="n-p16"><circle class="p" cx="1175" cy="373" r="7.8"/></g>
<g id="n-f1"><circle class="rb" cx="986" cy="380" r="4.8"/></g>
<g id="n-f2"><circle class="n" cx="1098" cy="408" r="5.2"/></g>
<g id="n-f3"><circle class="rb" cx="982" cy="436" r="5.3"/></g>
<g id="n-f4"><circle class="r" cx="473" cy="611" r="5.5"/></g>
<g id="n-f5"><circle class="r" cx="514" cy="632" r="6"/></g>
<g id="n-h1"><circle class="r" cx="833" cy="500" r="14"/></g>
<g id="n-h2"><circle class="r" cx="817" cy="500" r="15"/></g>
<g id="n-h3"><circle class="r" cx="769" cy="520" r="15"/></g>
<g id="n-h4"><circle class="r" cx="861" cy="507" r="15"/></g>
<g id="n-h5"><circle class="r" cx="868" cy="530" r="14"/></g>
<g id="n-h6"><circle class="r" cx="774" cy="532" r="16"/></g>
<g id="n-h7"><circle class="r" cx="851" cy="540" r="15"/></g>
<g id="n-h8"><circle class="r" cx="798" cy="559" r="16"/></g>
<g id="n-h9"><circle class="r" cx="819" cy="557" r="16"/></g>
<g id="n-h10"><circle class="r" cx="788" cy="522" r="16"/></g>
<g id="n-h11"><circle class="r" cx="829" cy="515" r="17"/></g>
<g id="n-h12"><circle class="r" cx="800" cy="505" r="17"/></g>
<g id="n-h13"><circle class="r" cx="855" cy="522" r="17"/></g>
<g id="n-h14"><circle class="r" cx="805" cy="546" r="17"/></g>
<g id="n-h15"><circle class="r" cx="836" cy="549" r="17"/></g>
<g id="n-h16"><circle class="r" cx="792" cy="597" r="24"/></g>
<g id="n-k0"><circle class="r" cx="862" cy="828" r="14"/></g>
<g id="n-q1"><circle class="u" cx="549" cy="739" r="7"/></g>
<g id="n-q2"><circle class="u" cx="699" cy="814" r="9"/></g>
<g id="n-q6"><circle class="u" cx="812" cy="768" r="14"/></g>
<g id="n-q5"><circle class="u" cx="817" cy="792" r="12"/></g>
<g id="n-q9"><circle class="u" cx="747" cy="803" r="12"/></g>
<g id="n-q3"><circle class="u" cx="747" cy="785" r="19"/></g>
<g id="n-q8"><circle class="u" cx="760" cy="827" r="11"/></g>
<g id="n-q7"><circle class="u" cx="768" cy="808" r="14.5"/></g>
<g id="n-q13"><circle class="u" cx="832" cy="813" r="13"/></g>
<g id="n-q4"><circle class="u" cx="792" cy="790" r="19"/></g>
<g id="n-q10"><circle class="u" cx="810" cy="813" r="14"/></g>
<g id="n-q11"><circle class="u" cx="812" cy="833" r="15.5"/></g>
<g id="n-q12"><circle class="u" cx="827" cy="832" r="15"/></g>
<g id="n-q14"><circle class="u" cx="842" cy="833" r="16"/></g>
<g id="n-q15"><circle class="u" cx="863" cy="807" r="11.5"/></g>
<g id="n-q16"><circle class="u" cx="877" cy="849" r="12.5"/></g>
<g id="n-q17"><circle class="u" cx="843" cy="859" r="13"/></g>
<g id="n-q18"><circle class="u" cx="868" cy="863" r="11"/></g>
<g id="n-q19"><circle class="u" cx="865" cy="882" r="11.5"/></g>
<g id="n-q20"><circle class="u" cx="888" cy="877" r="12"/></g>
<g id="n-q21"><circle class="u" cx="908" cy="877" r="11.5"/></g>
<g id="n-q22"><circle class="u" cx="897" cy="893" r="11.5"/></g>
<g id="n-q23"><circle class="u" cx="877" cy="897" r="11.5"/></g>
<g id="n-q24"><circle class="u" cx="930" cy="888" r="10.5"/></g>
<g id="n-q25"><circle class="u" cx="919" cy="901" r="10.5"/></g>
<g id="n-q26"><circle class="u" cx="899" cy="914" r="10"/></g>
<g id="n-q27"><circle class="u" cx="918" cy="925" r="9.5"/></g>
<g id="n-q28"><circle class="u" cx="947" cy="911" r="8.5"/></g>
<g id="n-q29"><circle class="b" cx="951" cy="928" r="8.5"/></g>
<g id="n-k1"><circle class="r" cx="719" cy="679" r="9.5"/></g>
<g id="n-k2"><circle class="r" cx="657" cy="672" r="8.7"/></g>
<g id="n-k3"><circle class="r" cx="806" cy="677" r="10.5"/></g>
<g id="n-k4"><circle class="r" cx="816" cy="703" r="12"/></g>
<g id="n-k5"><circle class="r" cx="835" cy="764" r="12"/></g>
<g id="n-k6"><circle class="r" cx="767" cy="714" r="16"/></g>
<g id="n-k7"><circle class="r" cx="670" cy="740" r="14"/></g>
<g id="n-k8"><circle class="r" cx="685" cy="751" r="15"/></g>
<g id="n-k9"><circle class="r" cx="700" cy="757" r="15"/></g>
<g id="n-k10"><circle class="r" cx="717" cy="755" r="15"/></g>
<g id="n-k11"><circle class="r" cx="738" cy="743" r="18"/></g>
<g id="n-k12"><circle class="r" cx="770" cy="740" r="18"/></g>
<g id="n-k13"><circle class="r" cx="677" cy="705" r="15.5"/></g>
<g id="n-k14"><circle class="r" cx="690" cy="719" r="15.5"/></g>
<g id="n-k15"><circle class="r" cx="708" cy="722" r="16"/></g>
<g id="n-k16"><circle class="r" cx="747" cy="712" r="19"/></g>
<g id="n-k17"><circle class="r" cx="790" cy="716" r="15"/></g>
<g id="n-k18"><circle class="r" cx="718" cy="694" r="14"/></g>
<g id="n-k19"><circle class="r" cx="747" cy="693" r="21"/></g>
<g id="n-k20"><circle class="r" cx="768" cy="766" r="21"/></g>
<g id="n-k21"><circle class="r" cx="797" cy="762" r="20"/></g>
<g id="n-g1"><circle class="g" cx="1444" cy="535" r="6.5"/></g>
<g id="n-g2"><circle class="g" cx="1477" cy="534" r="6.5"/></g>
<g id="n-g3"><circle class="b" cx="1436" cy="560" r="7.5"/></g>
<g id="n-g4"><circle class="b" cx="1484" cy="554" r="7"/></g>
<g id="n-g5"><circle class="g" cx="1449" cy="572" r="7.5"/></g>
<g id="n-g6"><circle class="g" cx="1478" cy="571" r="7.5"/></g>
<g id="n-g7"><circle class="g" cx="1459" cy="603" r="7.5"/></g>
<g id="n-g8"><circle class="g" cx="1447" cy="619" r="7"/></g>
<g id="n-l1"><circle class="l" cx="1423" cy="624" r="7.2"/></g>
<g id="n-l2"><circle class="l" cx="1520" cy="645" r="6"/></g>
<g id="n-g9"><circle class="g" cx="1658" cy="649" r="5.3"/></g>
<g id="n-g10"><circle class="g" cx="1426" cy="678" r="6.5"/></g>
<g id="n-r1"><circle class="rb" cx="1444" cy="693" r="6.5"/></g>
<g id="n-l3"><circle class="l" cx="1336" cy="691" r="6.5"/></g>
<g id="n-g11"><circle class="g" cx="1269" cy="703" r="6"/></g>
<g id="n-l4"><circle class="l" cx="1294" cy="718" r="6.5"/></g>
<g id="n-g12"><circle class="g" cx="1277" cy="735" r="6"/></g>
<g id="n-l5"><circle class="l" cx="1523" cy="679" r="8.5"/></g>
<g id="n-l6"><circle class="l" cx="1514" cy="693" r="8"/></g>
<g id="n-l7"><circle class="l" cx="1573" cy="688" r="8"/></g>
<g id="n-l8"><circle class="l" cx="1488" cy="703" r="9.5"/></g>
<g id="n-l9"><circle class="l" cx="1535" cy="706" r="10.3"/></g>
<g id="n-l10"><circle class="l" cx="1556" cy="716" r="8.3"/></g>
<g id="n-l11"><circle class="l" cx="1493" cy="732" r="9.5"/></g>
<g id="n-l12"><circle class="l" cx="1536" cy="733" r="9"/></g>
<g id="n-r2"><circle class="rb" cx="1533" cy="752" r="9"/></g>
<g id="n-r3"><circle class="rb" cx="1564" cy="769" r="6.7"/></g>
<g id="n-r4"><circle class="rb" cx="1536" cy="782" r="6.7"/></g>
<g id="n-l13"><circle class="l" cx="1421" cy="748" r="6.7"/></g>
<g id="n-l14"><circle class="l" cx="1450" cy="771" r="6.7"/></g>
<g id="n-l15"><circle class="l" cx="1458" cy="792" r="6.7"/></g>
<g id="n-l16"><circle class="l" cx="1612" cy="774" r="5.8"/></g>
<g id="n-l17"><circle class="l" cx="1672" cy="769" r="6.3"/></g>
<g id="n-l18"><circle class="l" cx="1743" cy="752" r="5.3"/></g>
<g id="n-l0"><circle class="l" cx="1577" cy="520" r="5.5"/></g>
<g id="n-k1a"><circle class="b" cx="1597" cy="312" r="6.3"/></g>
<g id="n-k2a"><circle class="y" cx="1567" cy="331" r="7.5"/></g>
<g id="n-k3a"><circle class="b" cx="1594" cy="339" r="8"/></g>
<g id="n-k4a"><circle class="b" cx="1621" cy="338" r="8"/></g>
<g id="n-k5a"><circle class="b" cx="1569" cy="349" r="7.5"/></g>
<g id="n-k6a"><circle class="b" cx="1611" cy="353" r="8"/></g>
<g id="n-k7a"><circle class="b" cx="1581" cy="363" r="7.5"/></g>
<g id="n-k8a"><circle class="rb" cx="1582" cy="384" r="8"/></g>
<g id="n-k9a"><circle class="n" cx="1626" cy="377" r="8"/></g>
<g id="n-k10a"><circle class="n" cx="1679" cy="408" r="5.3"/></g>
<g id="n-k11a"><circle class="n" cx="1643" cy="422" r="5.3"/></g>
<g id="n-m1"><circle class="b" cx="1740" cy="516" r="6"/></g>
<g id="n-m2"><circle class="b" cx="1718" cy="535" r="6"/></g>
<g id="n-m3"><circle class="b" cx="1773" cy="537" r="6"/></g>
<g id="n-m4"><circle class="g" cx="1753" cy="552" r="6.3"/></g>
<g id="n-m5"><circle class="g" cx="1808" cy="554" r="6"/></g>
<g id="n-m6"><circle class="u" cx="1787" cy="574" r="6"/></g>
<g id="n-s1"><circle class="b" cx="1605" cy="833" r="5"/></g>
<g id="n-s2"><circle class="b" cx="1423" cy="895" r="6"/></g>
<g id="n-s3"><circle class="b" cx="1353" cy="917" r="5.5"/></g>
<g id="n-s4"><circle class="b" cx="1253" cy="968" r="8"/></g>
<g id="n-s5"><circle class="b" cx="1197" cy="980" r="7"/></g>
<g id="n-s6"><circle class="b" cx="1176" cy="991" r="7"/></g>
<g id="n-s7"><circle class="b" cx="1218" cy="991" r="7"/></g>
<g id="n-s8"><circle class="b" cx="1170" cy="1007" r="7"/></g>
<g id="n-s9"><circle class="b" cx="1220" cy="1007" r="7"/></g>
<g id="n-s10"><circle class="b" cx="1195" cy="1015" r="7"/></g>
<g id="n-v1"><circle class="g" cx="1362" cy="980" r="6"/></g>
<g id="n-v2"><circle class="g" cx="1400" cy="976" r="6"/></g>
<g id="n-v3"><circle class="g" cx="1362" cy="1003" r="6"/></g>
<g id="n-v4"><circle class="g" cx="1400" cy="999" r="6"/></g>
</svg>
